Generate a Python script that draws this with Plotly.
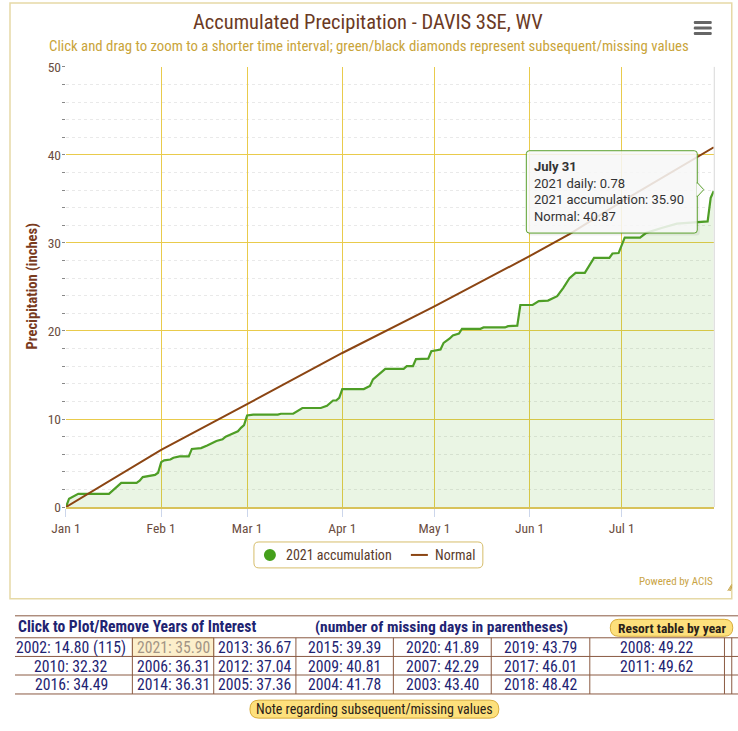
import plotly.graph_objects as go

W, H = 738, 731

# ---------------- data ----------------
acc_dates = [
    "2021-01-01", "2021-01-02", "2021-01-05", "2021-01-15", "2021-01-19", "2021-01-24",
    "2021-01-25", "2021-01-26", "2021-01-30", "2021-01-31", "2021-02-01", "2021-02-02",
    "2021-02-04", "2021-02-05", "2021-02-07", "2021-02-10", "2021-02-11", "2021-02-14",
    "2021-02-16", "2021-02-19", "2021-02-21", "2021-02-22", "2021-02-24", "2021-02-26",
    "2021-02-27", "2021-02-28", "2021-03-01", "2021-03-03", "2021-03-11", "2021-03-12",
    "2021-03-16", "2021-03-19", "2021-03-25", "2021-03-27", "2021-03-29", "2021-03-30",
    "2021-03-31", "2021-04-01", "2021-04-08", "2021-04-10", "2021-04-11", "2021-04-13",
    "2021-04-15", "2021-04-21", "2021-04-22", "2021-04-24", "2021-04-25", "2021-04-29",
    "2021-04-30", "2021-05-03", "2021-05-04", "2021-05-06", "2021-05-07", "2021-05-09",
    "2021-05-10", "2021-05-16", "2021-05-17", "2021-05-24", "2021-05-25", "2021-05-28",
    "2021-05-29", "2021-06-02", "2021-06-04", "2021-06-07", "2021-06-09", "2021-06-10",
    "2021-06-12", "2021-06-13", "2021-06-14", "2021-06-16", "2021-06-19", "2021-06-22",
    "2021-06-27", "2021-06-28", "2021-06-30", "2021-07-02", "2021-07-07", "2021-07-09",
    "2021-07-11", "2021-07-14", "2021-07-19", "2021-07-24", "2021-07-29", "2021-07-30",
    "2021-07-31",
]
acc_values = [
    0.0, 0.95, 1.5, 1.5, 2.75, 2.75,
    3.0, 3.4, 3.65, 3.9, 5.1, 5.3,
    5.4, 5.6, 5.75, 5.75, 6.6, 6.7,
    7.0, 7.5, 7.7, 8.0, 8.3, 8.6,
    9.0, 9.3, 10.4, 10.5, 10.5, 10.6,
    10.6, 11.25, 11.25, 11.5, 12.1, 12.1,
    12.4, 13.4, 13.4, 13.75, 14.5, 15.1,
    15.7, 15.7, 16.0, 16.0, 16.8, 16.85,
    17.7, 17.9, 18.65, 19.15, 19.5, 19.7,
    20.25, 20.25, 20.4, 20.4, 20.55, 20.6,
    22.95, 22.95, 23.4, 23.45, 23.75, 23.95,
    24.9, 25.5, 26.0, 26.6, 26.6, 28.3,
    28.3, 28.8, 28.85, 30.6, 30.6, 31.15,
    31.4, 31.7, 32.2, 32.35, 32.45, 35.12,
    35.90,
]
normal_dates = ["2021-01-01", "2021-02-01", "2021-03-01", "2021-04-01", "2021-05-01",
                "2021-06-01", "2021-06-14", "2021-07-01", "2021-07-31"]
normal_values = [0.0, 6.5, 11.7, 17.5, 22.8, 28.5, 31.0, 34.7, 40.87]

x_tick_dates = ["2021-01-01", "2021-02-01", "2021-03-01", "2021-04-01",
                "2021-05-01", "2021-06-01", "2021-07-01"]
x_tick_labels = ["Jan 1", "Feb 1", "Mar 1", "Apr 1", "May 1", "Jun 1", "Jul 1"]
y_tick_vals = [0, 10, 20, 30, 40, 50]

tooltip_title = "July 31"
tooltip_lines = ["2021 daily: 0.78", "2021 accumulation: 35.90", "Normal: 40.87"]

table_rows = [
    ["2002: 14.80 (115)", "2021: 35.90", "2013: 36.67", "2015: 39.39", "2020: 41.89", "2019: 43.79", "2008: 49.22", ""],
    ["2010: 32.32", "2006: 36.31", "2012: 37.04", "2009: 40.81", "2007: 42.29", "2017: 46.01", "2011: 49.62", ""],
    ["2016: 34.49", "2014: 36.31", "2005: 37.36", "2004: 41.78", "2003: 43.40", "2018: 48.42", "", ""],
]

# ---------------- helpers (target pixel -> paper) ----------------
# the page photograph places the figure at a small offset and scale; compensate
OX, OY, S = 13.0, 8.0, 0.98

def X(px):
    return (px - OX) / S / W

def Y(py):
    return 1 - (py - OY) / S / H

def rrect(x0, y0, x1, y1, r):
    pts = [
        ("M", [(x0 + r, y0)]), ("L", [(x1 - r, y0)]), ("Q", [(x1, y0), (x1, y0 + r)]),
        ("L", [(x1, y1 - r)]), ("Q", [(x1, y1), (x1 - r, y1)]), ("L", [(x0 + r, y1)]),
        ("Q", [(x0, y1), (x0, y1 - r)]), ("L", [(x0, y0 + r)]), ("Q", [(x0, y0), (x0 + r, y0)]),
    ]
    s = ""
    for cmd, ps in pts:
        s += cmd + " " + " ".join(f"{X(a):.5f},{Y(b):.5f}" for a, b in ps) + " "
    return s + "Z"

COND = "Liberation Sans Narrow, Roboto Condensed, Arial Narrow, Roboto, sans-serif"
REG = "Roboto, Liberation Sans, sans-serif"

fig = go.Figure()

fig.add_trace(go.Scatter(
    x=acc_dates, y=acc_values, mode="lines", name="2021 accumulation",
    line=dict(color="#4e9e26", width=2.2), fill="tozeroy",
    fillcolor="rgba(90,175,50,0.13)", hoverinfo="skip"))
fig.add_trace(go.Scatter(
    x=normal_dates, y=normal_values, mode="lines", name="Normal",
    line=dict(color="#8b4513", width=2), hoverinfo="skip"))

GRID = "#e9cb4c"
fig.update_layout(
    width=W, height=H, autosize=False,
    margin=dict(l=0, r=0, t=0, b=0),
    paper_bgcolor="white", plot_bgcolor="white",
    showlegend=False,
    xaxis=dict(
        type="date", range=["2021-01-01", "2021-07-31"],
        domain=[X(64), X(712)],
        tickvals=x_tick_dates, ticktext=x_tick_labels,
        showgrid=True, gridcolor=GRID, gridwidth=1.3,
        ticks="outside", ticklen=8, tickcolor="#ccd6eb",
        tickfont=dict(family=COND, size=13.5, color="#6b4d3f"),
        showline=True, linecolor="#d8c25a", linewidth=2,
        zeroline=False, fixedrange=True,
    ),
    yaxis=dict(
        range=[0, 50], domain=[Y(508), Y(67)],
        tickvals=y_tick_vals,
        showgrid=True, gridcolor=GRID, gridwidth=1.2,
        ticks="", tickfont=dict(family=COND, size=13.5, color="#6b4d3f"),
        ticklabelstandoff=4,
        minor=dict(tick0=0, dtick=2, showgrid=True, gridcolor="#e9e9e9", griddash="dot",
                   ticks="outside", ticklen=3, tickcolor="#888"),
        showline=False, zeroline=False, fixedrange=True,
    ),
)

shapes = []
# outer chart frame
shapes.append(dict(type="rect", xref="paper", yref="paper", x0=X(8), x1=X(730), y0=Y(600), y1=Y(3),
                   line=dict(color="#e6d9a6", width=1.5), layer="below"))
# plot right edge
shapes.append(dict(type="line", xref="paper", yref="paper", x0=X(712.5), x1=X(712.5), y0=Y(508), y1=Y(67),
                   line=dict(color="#d9d9d9", width=1)))
# menu icon
for yy in (21, 26.5, 32):
    shapes.append(dict(type="path", xref="paper", yref="paper", path=rrect(692, yy, 710, yy + 3, 1.2),
                       fillcolor="#666666", line=dict(width=0)))

# tooltip
shapes.append(dict(type="path", xref="paper", yref="paper", path=rrect(526, 153, 698, 236, 3),
                   fillcolor="rgba(0,0,0,0.06)", line=dict(width=0)))
shapes.append(dict(type="path", xref="paper", yref="paper", path=rrect(524.5, 151, 695.5, 233.5, 3),
                   fillcolor="rgba(249,249,249,0.86)", line=dict(color="#5aa02c", width=1)))
shapes.append(dict(type="path", xref="paper", yref="paper",
                   path=f"M {X(695.5)},{Y(183)} L {X(702)},{Y(190)} L {X(695.5)},{Y(197)} Z",
                   fillcolor="rgba(249,249,249,0.95)", line=dict(color="#5aa02c", width=1)))
shapes.append(dict(type="line", xref="paper", yref="paper", x0=X(695.5), x1=X(695.5), y0=Y(184), y1=Y(196),
                   line=dict(color="rgba(249,249,249,1)", width=1.5)))

# legend box
shapes.append(dict(type="path", xref="paper", yref="paper", path=rrect(252, 543, 481, 569, 5),
                   fillcolor="white", line=dict(color="#d6bd6a", width=1)))
shapes.append(dict(type="circle", xref="paper", yref="paper", x0=X(262), x1=X(274), y0=Y(562), y1=Y(550),
                   fillcolor="#45a01c", line=dict(width=0)))
shapes.append(dict(type="line", xref="paper", yref="paper", x0=X(409), x1=X(426), y0=Y(556), y1=Y(556),
                   line=dict(color="#8b4513", width=2)))
# resize icon
for k in range(3):
    shapes.append(dict(type="line", xref="paper", yref="paper", x0=X(726 + k * 1.3), x1=X(730), y0=Y(592),
                       y1=Y(588 - (2 - k) * 1.3), line=dict(color="#c8a64a", width=1)))

# table
TL = "#8a5a42"
col_edges = [8.5, 130.4, 211.8, 294, 391.5, 489.4, 588, 722.7, 730, 738]
row_edges = [639, 657.7, 676.3, 695.3]
# highlighted cell
shapes.append(dict(type="rect", xref="paper", yref="paper", x0=X(130.4), x1=X(211.8), y0=Y(657.7), y1=Y(639),
                   fillcolor="#fcefcb", line=dict(color="#e2c98a", width=1), layer="below"))
for yy in [617] + row_edges:
    shapes.append(dict(type="line", xref="paper", yref="paper", x0=0, x1=1, y0=Y(yy), y1=Y(yy),
                       line=dict(color=TL, width=1)))
for xx in col_edges[1:-1]:
    shapes.append(dict(type="line", xref="paper", yref="paper", x0=X(xx), x1=X(xx), y0=Y(695.3), y1=Y(639),
                       line=dict(color=TL, width=1)))
# buttons
shapes.append(dict(type="path", xref="paper", yref="paper", path=rrect(608.5, 620.5, 731, 637.5, 8.5),
                   fillcolor="#fde07c", line=dict(color="#d9ad3c", width=1)))
shapes.append(dict(type="path", xref="paper", yref="paper", path=rrect(248, 701.5, 497, 719.5, 9),
                   fillcolor="#fde07c", line=dict(color="#d9ad3c", width=1)))

fig.update_layout(shapes=shapes)

ann = []
def A(text, x, y, size, color, family=COND, xanchor="center", angle=0):
    ann.append(dict(text=text, x=X(x), y=Y(y), xref="paper", yref="paper", showarrow=False,
                    xanchor=xanchor, yanchor="middle", textangle=angle,
                    font=dict(family=family, size=size, color=color)))

A("Accumulated Precipitation - DAVIS 3SE, WV", 366.5, 22.5, 20.5, "#6b3a24")
A("Click and drag to zoom to a shorter time interval; green/black diamonds represent subsequent/missing values",
  367, 46.5, 14.8, "#c9a43a")
A("<b>Precipitation (inches)</b>", 30, 287, 14.6, "#7a3b1e", angle=-90)

# tooltip text
A(f"<b>{tooltip_title}</b>", 530, 167, 13, "#333333", family=REG, xanchor="left")
for i, line in enumerate(tooltip_lines):
    A(line, 530, 183.5 + i * 16.7, 13, "#333333", family=REG, xanchor="left")

# legend text
A("2021 accumulation", 282, 556, 14, "#5a3c2c", xanchor="left")
A("Normal", 431, 556, 14, "#5a3c2c", xanchor="left")

A("Powered by ACIS", 713.5, 583, 11, "#c9a445", xanchor="right")

# table text
A("<b>Click to Plot/Remove Years of Interest</b>", 14, 628, 15.6, "#1f2472", xanchor="left")
A("<b>(number of missing days in parentheses)</b>", 440, 628, 15.5, "#1f2472")
A("<b>Resort table by year</b>", 670, 629, 13.5, "#2a2118")
row_centers = [(row_edges[i] + row_edges[i + 1]) / 2 for i in range(3)]
for r, row in enumerate(table_rows):
    for c, txt in enumerate(row):
        if not txt:
            continue
        cx = (col_edges[c] + col_edges[c + 1]) / 2
        color = "#a39585" if (r == 0 and c == 1) else "#1f2472"
        A(txt, cx, row_centers[r] + 0.5, 15.7, color)
A("Note regarding subsequent/missing values", 372.5, 710.5, 14, "#2a2118")

fig.update_layout(annotations=ann)

fig.write_html(
    "out.html",
    config={"displayModeBar": False},
    post_script=(
        "document.documentElement.style.margin='0';"
        "document.body.style.margin='0';document.body.style.padding='0';"
        "document.body.style.overflow='hidden';"
        "var g=document.querySelector('.plotly-graph-div');"
        "g.style.position='fixed';g.style.left='0px';g.style.top='0px';"
    ),
)
